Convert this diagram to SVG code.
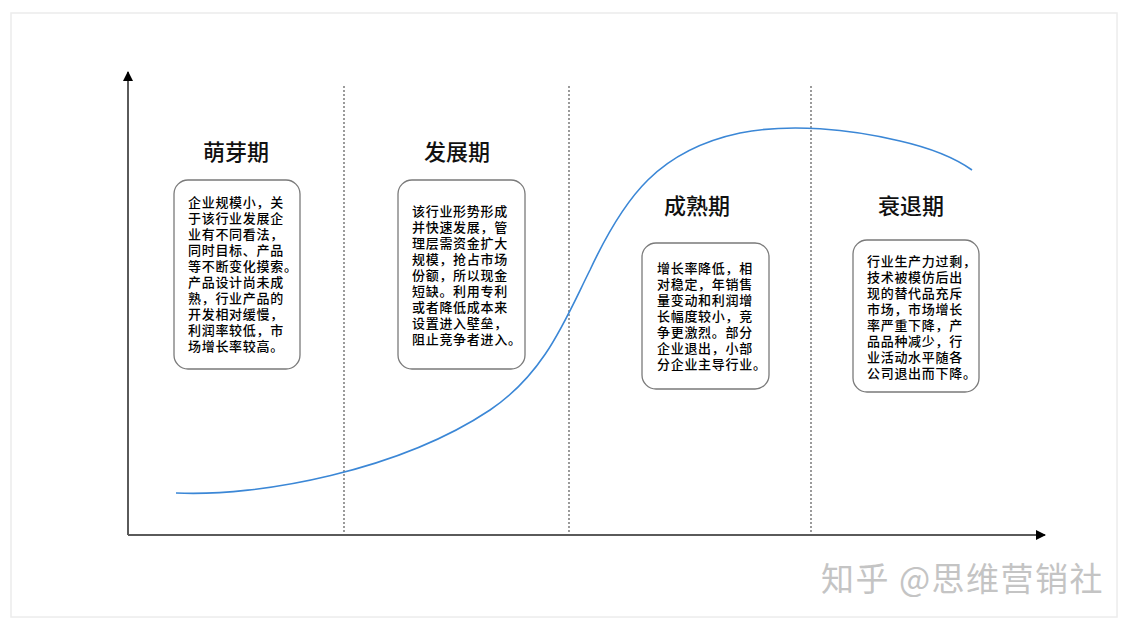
<svg xmlns="http://www.w3.org/2000/svg" width="1128" height="625" viewBox="0 0 1128 625">
<defs>
<style>
.title{font-family:"Noto Sans CJK SC","Noto Sans",sans-serif;font-size:22px;fill:#111;text-anchor:middle;font-weight:500}
.body{font-family:"Noto Sans CJK SC","Noto Sans",sans-serif;font-size:13px;letter-spacing:0.7px;fill:#000;font-weight:500}
.box{fill:#fff;stroke:#7a7a7a;stroke-width:1.3}
.axis{stroke:#5a5a5a;stroke-width:2;fill:none}
.div{stroke:#666;stroke-width:1.3;stroke-dasharray:2 2;fill:none}
.wm{font-family:"Noto Sans CJK SC","Noto Sans",sans-serif;font-size:33px;letter-spacing:1.5px;fill:#c4c4c4}
</style>
<marker id="arr" viewBox="0 0 10 10" refX="9" refY="5" markerWidth="5" markerHeight="5" orient="auto" markerUnits="strokeWidth">
<path d="M0,0 L10,5 L0,10 z" fill="#000"/>
</marker>
</defs>
<rect x="0" y="0" width="1128" height="625" fill="#fff"/>
<rect x="11" y="13" width="1106" height="604" fill="none" stroke="#ececec" stroke-width="1.5"/>
<g id="connectors">
<line class="axis" x1="128" y1="535" x2="128" y2="72" marker-end="url(#arr)"/>
<line class="axis" x1="128" y1="535" x2="1045" y2="535" marker-end="url(#arr)"/>
<line class="div" x1="344" y1="86" x2="344" y2="533"/>
<line class="div" x1="569" y1="86" x2="569" y2="533"/>
<line class="div" x1="811" y1="86" x2="811" y2="533"/>
<path d="M176,493 C260,497 400,470 490,410 C545,373 565,320 590,270 C625,195 660,150 740,133 C790,123 850,129 900,141 C935,149 955,158 972,170" fill="none" stroke="#3b87d6" stroke-width="1.6"/>
</g>
<g id="stage1">
<text class="title" x="236" y="160">萌芽期</text>
<rect class="box" x="174" y="180" width="126" height="189" rx="14"/>
<text class="body" x="188" y="207">企业规模小，关</text>
<text class="body" x="188" y="223">于该行业发展企</text>
<text class="body" x="188" y="239">业有不同看法，</text>
<text class="body" x="188" y="255">同时目标、产品</text>
<text class="body" x="188" y="271">等不断变化摸索。</text>
<text class="body" x="188" y="287">产品设计尚未成</text>
<text class="body" x="188" y="303">熟，行业产品的</text>
<text class="body" x="188" y="319">开发相对缓慢，</text>
<text class="body" x="188" y="335">利润率较低，市</text>
<text class="body" x="188" y="351">场增长率较高。</text>
</g>
<g id="stage2">
<text class="title" x="457" y="160">发展期</text>
<rect class="box" x="398" y="180" width="127" height="189" rx="14"/>
<text class="body" x="412" y="216">该行业形势形成</text>
<text class="body" x="412" y="232">并快速发展，管</text>
<text class="body" x="412" y="248">理层需资金扩大</text>
<text class="body" x="412" y="264">规模，抢占市场</text>
<text class="body" x="412" y="280">份额，所以现金</text>
<text class="body" x="412" y="296">短缺。利用专利</text>
<text class="body" x="412" y="312">或者降低成本来</text>
<text class="body" x="412" y="328">设置进入壁垒，</text>
<text class="body" x="412" y="344">阻止竞争者进入。</text>
</g>
<g id="stage3">
<text class="title" x="697" y="214">成熟期</text>
<rect class="box" x="642" y="243" width="127" height="146" rx="14"/>
<text class="body" x="657" y="273">增长率降低，相</text>
<text class="body" x="657" y="289">对稳定，年销售</text>
<text class="body" x="657" y="305">量变动和利润增</text>
<text class="body" x="657" y="321">长幅度较小，竞</text>
<text class="body" x="657" y="337">争更激烈。部分</text>
<text class="body" x="657" y="353">企业退出，小部</text>
<text class="body" x="657" y="369">分企业主导行业。</text>
</g>
<g id="stage4">
<text class="title" x="911" y="214">衰退期</text>
<rect class="box" x="853" y="240" width="126" height="152" rx="14"/>
<text class="body" x="867" y="266">行业生产力过剩，</text>
<text class="body" x="867" y="282">技术被模仿后出</text>
<text class="body" x="867" y="298">现的替代品充斥</text>
<text class="body" x="867" y="314">市场，市场增长</text>
<text class="body" x="867" y="330">率严重下降，产</text>
<text class="body" x="867" y="346">品品种减少，行</text>
<text class="body" x="867" y="362">业活动水平随各</text>
<text class="body" x="867" y="378">公司退出而下降。</text>
</g>
<text class="wm" x="821" y="591">知乎 @思维营销社</text>
</svg>
